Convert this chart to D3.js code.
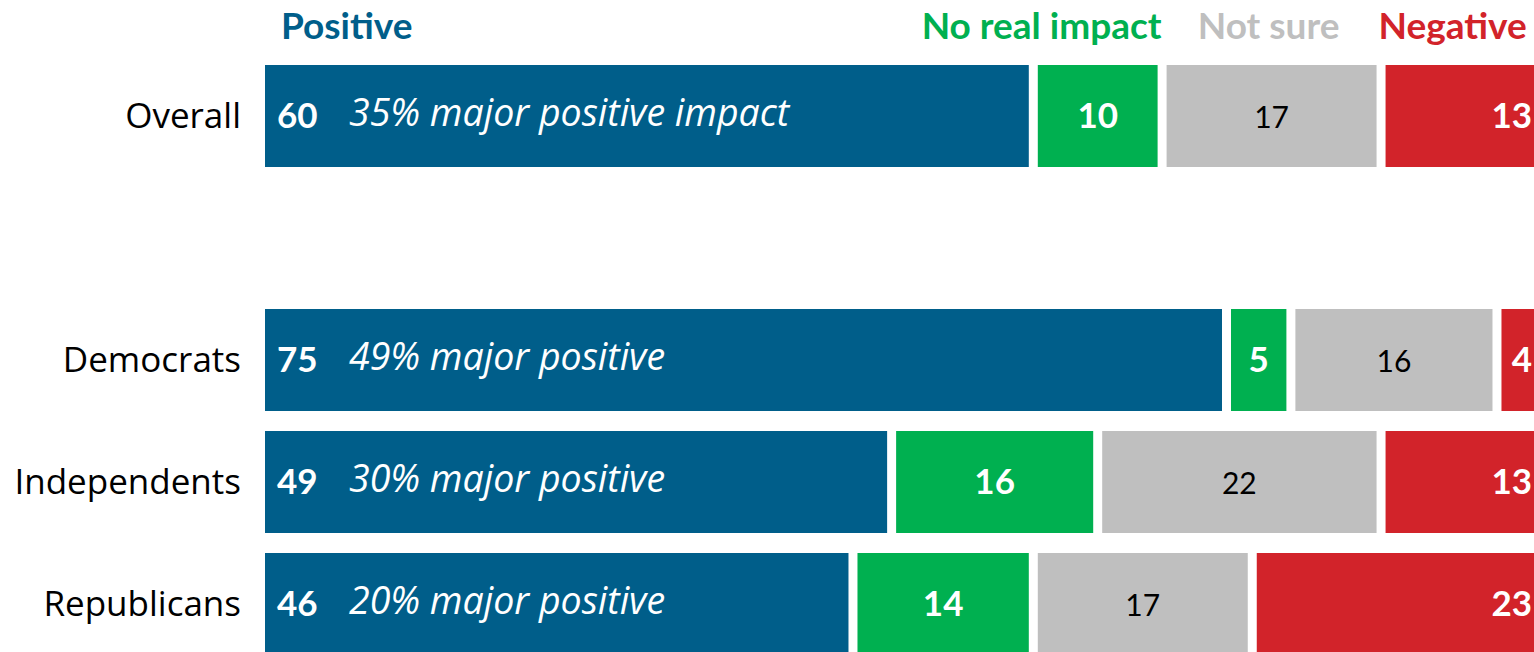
<!DOCTYPE html>
<html>
<head>
<meta charset="utf-8">
<script src="https://cdn.jsdelivr.net/npm/d3@7"></script>
<style>
  html, body { margin: 0; padding: 0; background: #fff; overflow: hidden; }
  svg { display: block; font-family: Lato, "Open Sans", sans-serif; }
</style>
</head>
<body>
<svg id="chart" width="1534" height="652"></svg>
<script>
// ---- data ----
const rows = ["Overall", "", "Democrats", "Independents", "Republicans"];
const groups = ["Overall", "Democrats", "Independents", "Republicans"];
const seriesNames = ["Positive", "No real impact", "Not sure", "Negative"];
const positive = [60, 75, 49, 46];
const noImpact = [10, 5, 16, 14];
const notSure = [17, 16, 22, 17];
const negative = [13, 4, 13, 23];
const majorNotes = ["35% major positive impact", "49% major positive", "30% major positive", "20% major positive"];
const colors = ["#005e8a", "#00b050", "#bfbfbf", "#d2232a"];
const textColors = ["#ffffff", "#ffffff", "#000000", "#ffffff"];

const svg = d3.select("#chart");
const W = 1534;
const gap = 9;

const x = d3.scaleLinear().domain([0, 100]).range([265, 1553]);
const y = d3.scaleBand().domain(rows).range([65, 65 + 5 * 122 - 20]).paddingInner(20 / 122).paddingOuter(0);

const seriesVals = [positive, noImpact, notSure, negative];
const data = groups.map((g, i) => {
  let cum = 0;
  return { group: g, note: majorNotes[i], segs: seriesVals.map((arr, s) => {
    const seg = { s, v: arr[i], x0: cum, x1: cum + arr[i] };
    cum += arr[i];
    return seg;
  })};
});

// category labels
svg.append("g").selectAll("text").data(groups).join("text")
  .attr("x", 241)
  .attr("y", d => y(d) + y.bandwidth() / 2 + 12)
  .attr("text-anchor", "end")
  .attr("font-family", "'Open Sans', Lato, sans-serif")
  .attr("font-size", 35)
  .attr("font-weight", 500)
  .attr("fill", "#000")
  .text(d => d);

const rowsG = svg.append("g").selectAll("g").data(data).join("g")
  .attr("transform", d => `translate(0,${y(d.group)})`);

rowsG.selectAll("rect").data(d => d.segs).join("rect")
  .attr("x", d => x(d.x0))
  .attr("y", 0)
  .attr("width", d => x(d.x1) - x(d.x0) - gap)
  .attr("height", y.bandwidth())
  .attr("fill", d => colors[d.s]);

const cy = y.bandwidth() / 2 + 12;
rowsG.selectAll("text.val").data(d => d.segs).join("text")
  .attr("class", "val")
  .attr("x", d => d.s === 0 ? x(d.x0) + 12
    : d.s === 3 ? Math.min(x(d.x1) - gap - 6, W - 2)
    : (x(d.x0) + x(d.x1) - gap) / 2)
  .attr("y", cy)
  .attr("text-anchor", d => d.s === 0 ? "start" : d.s === 3 ? "end" : "middle")
  .attr("font-size", d => d.s === 2 ? 30 : 35)
  .attr("font-weight", d => d.s === 2 ? 400 : 700)
  .attr("fill", d => textColors[d.s])
  .text(d => d.v);

rowsG.append("text")
  .attr("x", x(0) + 84)
  .attr("y", cy - 2)
  .attr("font-family", "'Open Sans', Lato, sans-serif")
  .attr("font-size", 37.5)
  .attr("font-style", "italic")
  .attr("fill", "#fff")
  .text(d => d.note);

// header labels
const ov = data[0].segs;
const headerX = [
  { x: x(ov[0].x0) + 16, anchor: "start" },
  { x: x(ov[1].x1) - gap + 4, anchor: "end" },
  { x: (x(ov[2].x0) + x(ov[2].x1) - gap) / 2 - 3, anchor: "middle" },
  { x: x(ov[3].x0) - 7, anchor: "start" }
];
svg.append("g").selectAll("text").data(seriesNames).join("text")
  .attr("x", (d, i) => headerX[i].x)
  .attr("y", 39)
  .attr("text-anchor", (d, i) => headerX[i].anchor)
  .attr("font-size", 37)
  .attr("font-weight", 700)
  .attr("fill", (d, i) => colors[i])
  .text(d => d);
</script>
</body>
</html>
